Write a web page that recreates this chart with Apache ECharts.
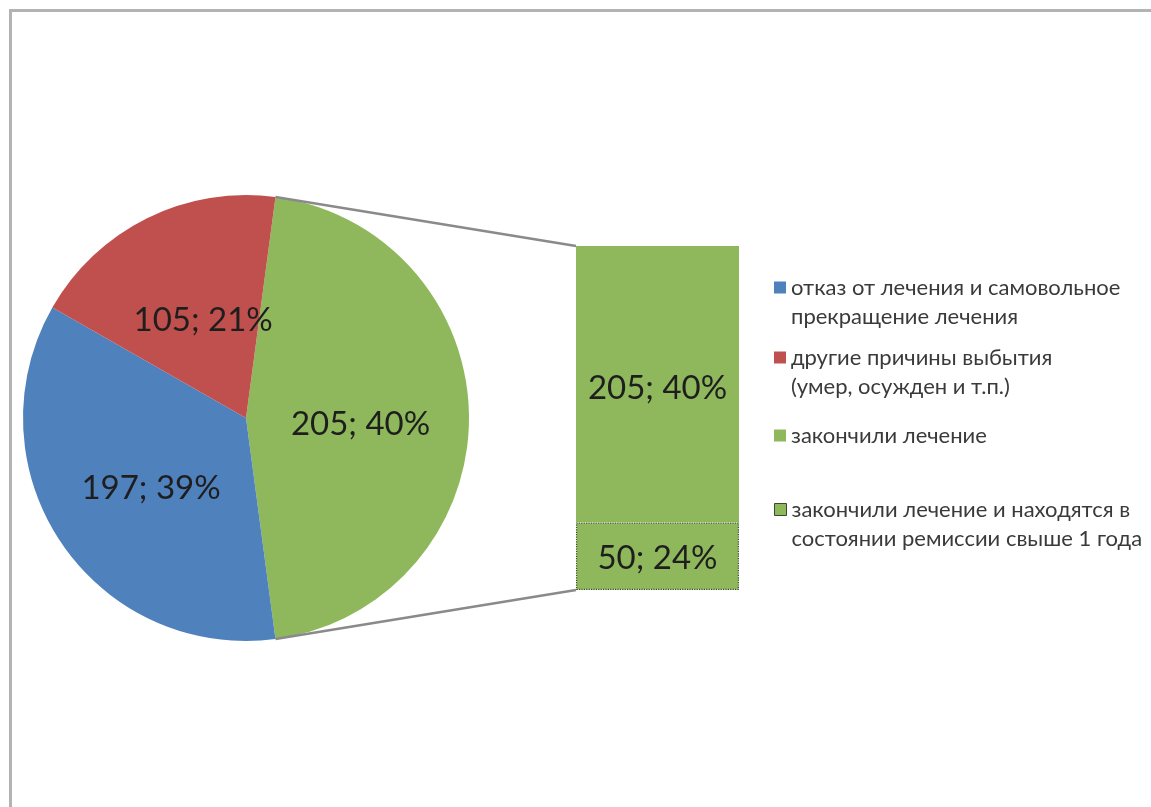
<!DOCTYPE html>
<html>
<head>
<meta charset="utf-8">
<script src="https://cdn.jsdelivr.net/npm/echarts@6/dist/echarts.min.js"></script>
<style>
  html, body { margin: 0; padding: 0; background: #fff; }
  #frame { position: absolute; left: 9px; top: 9px; right: 0; bottom: 0;
           border-left: 3px solid #b3b3b3; border-top: 3px solid #b3b3b3; }
  #chart { position: absolute; left: 0; top: 0; width: 1151px; height: 807px; }
</style>
</head>
<body>
<div id="frame"></div>
<div id="chart"></div>
<script>
// categories (legend text keeps the original line breaks)
const categories = [
  'отказ от лечения и самовольное\nпрекращение лечения',
  'другие причины выбытия\n(умер, осужден и т.п.)',
  'закончили лечение',
  'закончили лечение и находятся в\nсостоянии ремиссии свыше 1 года'
]
const values = [197, 105, 205, 50]
const percents = ['39%', '21%', '40%', '24%']

const blue = '#4f81bd', red = '#c0504d', green = '#8fb85c'
const font = 'Lato, "Open Sans", sans-serif'

// pie: the "other" slice holds everything moved to the bar
const otherValue = values[2] + values[3]
const pieTotal = values[0] + values[1] + otherValue
const otherSpan = otherValue / pieTotal * 360
const pieCenter = [246, 418]
const pieRadius = 223
const barGrid = { left: 576, top: 246, width: 163, height: 344 }

const labelOf = i => `${values[i]}; ${percents[i]}`

const chart = echarts.init(document.getElementById('chart'))

const legendTops = [244, 314, 421, 466]
const legends = categories.map((name, i) => ({
  left: 774,
  top: legendTops[i],
  padding: 0,
  orient: 'vertical',
  itemWidth: 12,
  itemHeight: 12,
  itemGap: 0,
  icon: 'rect',
  selectedMode: false,
  data: [i === 3
    ? { name, itemStyle: { color: green, borderColor: '#3c4a2c', borderWidth: 1 } }
    : { name }],
  formatter: n => (n.indexOf('\n') >= 0 ? '\n' + n : n),
  textStyle: { fontFamily: font, fontSize: 22, color: '#3a3a3a', lineHeight: 29 }
}))

const valueLabel = { fontFamily: font, fontSize: 33, color: '#1e1e1e' }

chart.setOption({
  animation: false,
  legend: legends,
  grid: barGrid,
  xAxis: { type: 'category', data: [''], show: false },
  yAxis: { type: 'value', min: 0, max: otherValue, show: false },
  series: [
    {
      type: 'pie',
      center: pieCenter,
      radius: pieRadius,
      startAngle: otherSpan / 2,
      clockwise: true,
      silent: true,
      label: Object.assign({
        position: 'inside',
        offset: [0, 6],
        formatter: p => labelOf(p.data.idx)
      }, valueLabel),
      labelLine: { show: false },
      data: [
        { name: categories[2], value: otherValue, idx: 2, itemStyle: { color: green } },
        { name: categories[0], value: values[0], idx: 0, itemStyle: { color: blue } },
        { name: categories[1], value: values[1], idx: 1, itemStyle: { color: red }, label: { offset: [8, 5] } }
      ]
    },
    {
      type: 'bar',
      name: categories[3],
      stack: 'rest',
      barWidth: '100%',
      silent: true,
      data: [values[3]],
      itemStyle: { color: green, borderColor: '#3c4a2c', borderWidth: 1.2, borderType: 'dotted' },
      label: Object.assign({ show: true, position: 'inside', offset: [0, 2], formatter: () => labelOf(3) }, valueLabel)
    },
    {
      type: 'bar',
      name: categories[2],
      stack: 'rest',
      barWidth: '100%',
      silent: true,
      data: [values[2]],
      itemStyle: { color: green },
      label: Object.assign({ show: true, position: 'inside', offset: [0, 4], formatter: () => labelOf(2) }, valueLabel)
    }
  ]
})

// connector lines from the edges of the "other" slice to the bar corners
const a = otherSpan / 2 * Math.PI / 180
const px = pieCenter[0] + pieRadius * Math.cos(a)
const pyTop = pieCenter[1] - pieRadius * Math.sin(a)
const pyBot = pieCenter[1] + pieRadius * Math.sin(a)
const barTop = chart.convertToPixel({ yAxisIndex: 0 }, otherValue)
const barBot = chart.convertToPixel({ yAxisIndex: 0 }, 0)
const lineStyle = { stroke: '#8a8a8a', lineWidth: 2.5 }
chart.setOption({
  graphic: [
    { type: 'line', z: 10, shape: { x1: px, y1: pyTop, x2: barGrid.left, y2: barTop }, style: lineStyle },
    { type: 'line', z: 10, shape: { x1: px, y1: pyBot, x2: barGrid.left, y2: barBot }, style: lineStyle }
  ]
})
</script>
</body>
</html>
